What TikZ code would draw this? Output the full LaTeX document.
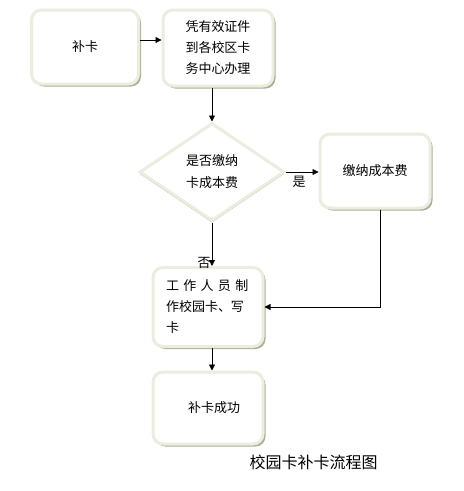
\documentclass[tikz,border=0pt]{standalone}
\usepackage{fontspec}
\setmainfont{Noto Sans CJK SC}
\usepackage{tikz}
\usetikzlibrary{arrows.meta,shapes.geometric,shadows}

\definecolor{rimcol}{HTML}{ECECE0}
\definecolor{shadecol}{HTML}{A9B194}

\tikzset{
  stepbox/.style={rectangle,rounded corners=10pt,draw=rimcol,line width=3pt,fill=white,
    minimum width=107pt,minimum height=74pt,inner sep=2pt,font=\fontsize{13}{21}\selectfont,
    drop shadow={fill=shadecol,opacity=1,shadow xshift=2.5pt,shadow yshift=-2.5pt}},
  askbox/.style={diamond,draw=rimcol,line width=3pt,fill=white,
    minimum width=145pt,minimum height=98pt,inner sep=0pt,font=\fontsize{13}{22}\selectfont,
    drop shadow={fill=shadecol,opacity=1,shadow xshift=0pt,shadow yshift=-2pt}},
  flow/.style={-{Triangle[length=6pt,width=6pt]},black,line width=0.8pt},
}

\begin{document}
\begin{tikzpicture}[x=1pt,y=-1pt]
  \useasboundingbox (0,0) rectangle (464,491);
  \node[stepbox] (b1) at (85,47) {补卡};
  \node[stepbox,minimum width=110pt,minimum height=76pt,align=center] (b2) at (218,48) {凭有效证件\\到各校区卡\\务中心办理};
  \node[askbox,align=center] (ask) at (212,172) {是否缴纳\\卡成本费};
  \node[stepbox,minimum width=110pt] (b3) at (375,171) {缴纳成本费};
  \node[stepbox,minimum width=110pt,minimum height=79pt,align=left,text width=84pt] (b4) at (208,307) {工 作 人 员 制\\作校园卡、写\\卡};
  \node[stepbox,minimum width=110pt,minimum height=72pt] (b5) at (208,408) {\hspace{12pt}补卡成功};
  \node[font=\fontsize{16}{18}\selectfont,anchor=west] (title) at (246,462) {校园卡补卡流程图};

  \draw[flow] ([yshift=7pt]b1.east) -- ([yshift=7pt]b1.east -| b2.west);
  \draw[flow] (ask.north |- b2.south) -- (ask.north);
  \draw[flow] (ask.east) -- node[below,font=\fontsize{13}{14}\selectfont,pos=0.4] {是} (ask.east -| b3.west);
  \draw[flow] (ask.south) -- node[left,font=\fontsize{13}{14}\selectfont,pos=0.93,inner sep=1pt] {否} (ask.south |- b4.north);
  \draw[flow] ([xshift=5pt]b3.south) |- (b4.east);
  \draw[flow] (ask.south |- b4.south) -- (ask.south |- b5.north);
\end{tikzpicture}
\end{document}
